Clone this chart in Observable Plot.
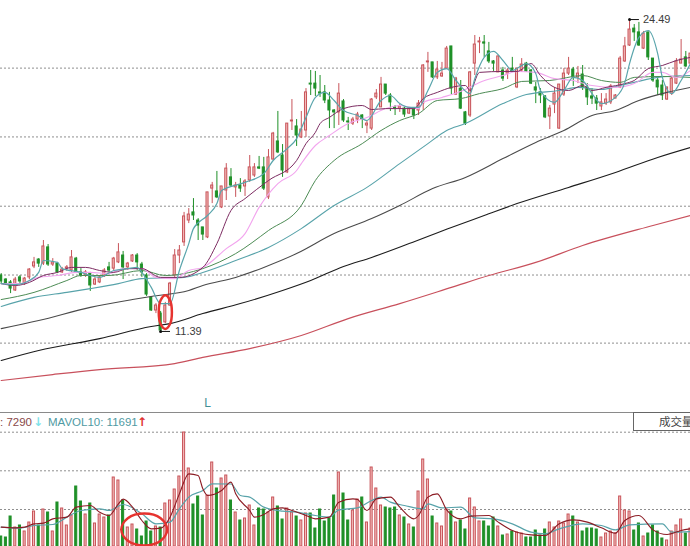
<!DOCTYPE html>
<html>
<head>
<meta charset="utf-8">
<script src="https://cdn.jsdelivr.net/npm/d3@7"></script>
<script src="https://cdn.jsdelivr.net/npm/@observablehq/plot@0.6"></script>
<style>
html,body{margin:0;padding:0;background:#fff;overflow:hidden}
#wrap{position:relative;width:690px;height:546px;overflow:hidden;font-family:"Liberation Sans",Arial,sans-serif}
#wrap svg{display:block}
#strip{position:relative;height:18px;width:690px;background:#fff}
#strip span{position:absolute;white-space:nowrap;font-size:11.5px;line-height:18px;top:1px}
#strip span.arrow{font-family:"DejaVu Sans",sans-serif;font-weight:bold;font-size:12px}
#strip .rule{position:absolute;left:0;top:0;width:690px;height:1px;background:#8a8a8a}
#box{position:absolute;left:633px;top:0;width:60px;height:17px;border:1px solid #666;background:#fff;box-sizing:content-box;font-family:"Noto Sans CJK SC",sans-serif;font-size:11.5px;line-height:17px;color:#444;padding-left:25px}
</style>
</head>
<body>
<div id="wrap">
  <div id="price"></div>
  <div id="strip">
    <div class="rule"></div>
    <span style="left:0;color:#8a4a4a">: 7290</span>
    <span class="arrow" style="left:33px;color:#7fe3ea">↓</span>
    <span style="left:48px;color:#4f9aa3">MAVOL10: 11691</span>
    <span class="arrow" style="left:137px;color:#e03030">↑</span>
    <div id="box">成交量</div>
  </div>
  <div id="volume"></div>
</div>
<script>
const openP = [13.74,13.57,13.45,13.11,13.66,13.40,13.66,14.12,14.41,14.24,14.92,14.20,14.24,13.87,14.03,13.95,14.45,13.87,13.74,13.82,13.36,13.45,13.70,14.08,14.03,14.29,14.58,14.08,14.33,14.58,14.20,13.74,12.82,12.27,12.14,11.77,12.48,13.74,14.58,15.13,16.05,16.39,16.05,15.76,15.34,17.39,17.27,16.60,17.31,17.86,17.44,17.52,17.48,17.73,17.94,18.28,18.28,17.02,18.61,19.37,18.78,18.07,20.21,20.00,19.54,19.83,21.80,21.80,21.43,21.43,21.09,20.67,20.59,21.05,20.21,20.12,20.29,20.46,20.04,19.91,21.22,20.80,21.76,21.30,20.80,20.75,20.75,20.54,20.71,20.67,20.96,22.69,22.69,22.06,22.10,22.43,23.36,21.34,21.59,20.59,20.46,22.64,23.53,23.53,23.15,22.73,22.27,22.35,22.22,22.43,21.64,22.35,22.64,22.35,21.64,21.43,21.26,20.42,20.92,19.91,21.34,22.22,22.39,22.06,22.18,21.64,21.26,21.17,20.84,20.96,21.01,21.17,21.64,22.73,23.40,24.11,23.95,23.27,23.95,22.85,21.93,21.72,21.13,21.38,21.80,22.64,22.90,22.64];
const highP = [13.82,13.61,13.53,13.66,13.74,13.66,14.03,14.50,14.45,15.21,15.04,14.45,14.29,14.08,14.16,14.79,14.50,14.03,13.95,13.87,13.66,13.74,14.03,14.29,14.50,15.08,14.75,14.29,14.62,14.66,14.29,13.82,12.86,12.56,12.23,12.61,13.45,14.83,15.00,16.39,16.55,16.97,16.13,15.76,17.23,17.65,18.11,17.48,18.44,18.23,17.65,17.81,17.77,18.78,18.44,18.74,18.70,19.03,19.75,20.63,19.24,20.12,21.13,20.29,20.63,21.59,22.35,22.31,22.14,21.72,21.43,20.71,21.80,21.13,20.38,20.38,20.59,20.50,20.25,21.17,21.55,22.06,21.76,21.38,20.88,20.92,20.80,20.80,20.75,21.09,22.60,23.11,22.69,22.73,22.69,23.36,23.36,22.06,21.93,20.63,22.31,23.82,23.74,23.82,23.53,22.77,22.98,22.48,22.43,22.90,22.43,22.85,22.69,22.39,21.85,21.59,21.30,20.88,21.64,21.76,22.43,22.90,22.48,22.52,22.56,21.80,21.59,21.30,21.38,21.38,21.76,21.34,22.94,23.74,24.49,24.28,24.37,23.99,23.95,22.85,22.06,21.93,21.64,22.06,22.85,23.65,23.15,23.11];
const lowP = [13.36,13.32,12.98,13.07,13.40,13.32,13.57,14.03,14.08,14.16,14.12,14.12,13.82,13.82,13.91,13.87,13.82,13.66,13.66,13.07,13.32,13.40,13.66,13.87,13.95,14.24,13.57,13.95,14.29,13.95,13.66,12.86,12.23,12.14,11.39,11.72,12.44,13.66,14.24,14.96,15.92,16.05,15.21,15.21,15.29,16.76,16.97,16.55,16.89,17.44,17.02,17.23,17.06,17.65,17.86,18.19,17.31,16.93,18.57,18.86,17.86,18.02,19.83,19.16,19.49,19.54,21.30,21.26,21.22,20.96,19.91,19.91,20.04,20.17,19.83,20.04,20.12,19.91,19.70,19.83,21.13,20.80,21.30,20.63,20.46,20.59,20.38,20.50,20.29,20.46,20.67,22.27,22.01,21.97,22.06,22.39,21.34,21.30,20.71,20.04,20.38,22.14,23.06,22.90,22.64,22.31,22.27,21.89,21.97,22.27,21.59,22.27,22.27,21.76,20.96,20.96,20.33,19.87,20.54,19.87,21.26,22.14,21.68,21.80,21.51,20.88,20.92,20.67,20.67,20.88,20.92,21.17,21.59,22.69,23.36,23.57,23.36,23.23,22.77,21.85,21.30,21.09,21.09,21.30,21.76,22.64,22.48,22.60];
const closeP = [13.49,13.40,13.19,13.57,13.49,13.61,13.99,14.29,14.24,14.96,14.20,14.29,13.87,13.99,14.08,14.50,13.87,13.74,13.87,13.32,13.57,13.66,13.95,13.95,14.45,14.71,14.08,14.24,14.58,14.29,13.87,12.94,12.27,12.48,11.43,12.48,13.40,14.58,14.79,16.22,16.30,16.26,15.84,15.46,17.23,17.52,17.02,17.48,18.23,17.52,17.52,17.39,17.69,18.28,18.28,18.23,17.39,18.70,19.70,18.91,18.15,20.12,20.25,19.62,19.87,21.43,21.76,21.59,21.38,21.09,20.67,20.59,21.38,20.25,20.17,20.29,20.50,20.29,20.12,21.13,21.38,21.76,21.38,21.01,20.75,20.84,20.50,20.75,20.46,20.96,22.56,22.73,22.06,22.39,22.22,23.27,21.59,22.01,20.75,20.12,22.27,23.44,23.57,23.48,22.73,22.64,22.94,22.01,22.35,22.31,22.43,22.60,22.31,21.80,21.51,21.30,20.38,20.75,21.38,21.76,22.22,22.43,22.06,22.22,21.64,21.22,21.17,20.96,21.01,21.13,21.68,21.30,22.85,23.36,24.07,23.95,23.40,23.90,22.90,21.93,21.64,21.30,21.64,22.01,22.73,22.81,22.52,23.06];
const volume = [2000,1800,6000,3800,4200,3000,4800,7000,4200,7400,6800,3000,8800,7600,4200,6200,12000,9000,6400,8600,4600,6400,5800,6200,13800,13200,9200,3800,4400,3400,2000,5000,3000,4000,3800,8600,9200,11400,14000,22800,15600,8400,10000,6200,10200,16800,11600,13600,14200,9200,6800,5200,5600,8200,4200,7600,7400,6800,9800,8000,5400,7600,6800,6000,5200,6600,6600,3600,7400,5000,5600,10200,14800,10600,5200,7200,9400,9800,4800,15800,11600,8200,7800,7600,7800,6200,5800,4400,3800,11000,17400,13400,6000,4600,4000,7400,7000,4800,5200,3400,9600,7800,5000,5000,4000,5800,4000,2200,2400,3000,2800,2600,1800,1800,3200,2200,3400,4800,3800,5000,4600,6400,6000,4800,3000,3600,3600,3400,1800,2600,3000,2600,10000,7200,7000,3200,4600,2000,2600,4200,3000,1600,1200,3000,4200,5400,2600,3600];

const ma5I = [0,3,6,8,9,12,13,17,19,21,24,27,29,30,32,34,36,38,40,41,44,46,47,52,56,58,61,63,65,67,69,71,73,76,78,81,83,85,87,89,91,93,95,97,100,101,103,105,107,109,112,114,115,118,120,122,124,126,128,131,133,134,136,138,140,141,143,145,147];
const ma5P = [13.40,13.36,13.53,13.87,14.37,14.29,14.03,13.87,13.74,13.66,13.95,14.03,14.08,13.87,13.24,12.56,12.56,13.95,15.08,15.71,16.26,16.76,17.31,17.65,18.02,18.57,19.07,19.49,20.38,21.22,21.43,21.09,20.67,20.46,20.25,21.09,21.30,20.96,20.80,20.80,21.51,22.27,22.43,21.93,21.38,22.01,22.90,23.15,22.77,22.35,22.64,22.22,21.51,21.01,21.51,22.06,21.93,21.38,20.96,21.22,21.85,22.64,23.74,24.03,23.06,22.06,21.38,21.93,22.64];
const ma10I = [0,3,6,9,12,15,18,21,24,27,30,34,38,43,46,49,52,57,63,65,67,68,70,73,77,79,82,88,90,93,96,99,100,102,107,110,113,115,118,121,124,126,129,133,135,138,141,144,147];
const ma10P = [13.40,13.32,13.45,13.74,13.87,14.08,14.08,13.95,13.87,14.03,14.03,13.66,13.66,14.08,15.08,16.47,16.97,17.73,18.57,19.28,19.75,20.12,20.38,20.75,20.88,20.71,20.75,20.75,21.17,21.43,21.64,21.72,21.51,22.27,22.31,22.31,22.64,22.14,21.64,21.51,21.72,21.51,21.64,21.80,21.93,22.43,22.56,22.77,22.90];
const ma20I = [0,4,8,12,16,19,23,26,30,33,37,40,43,48,52,55,59,63,64,67,70,74,78,82,85,89,90,94,99,102,107,110,114,118,122,126,131,135,139,141,144,147];
const ma20P = [13.40,13.40,13.66,13.74,13.87,13.87,13.82,14.03,14.03,13.66,13.61,13.95,14.08,14.87,15.50,16.60,17.60,18.15,18.44,19.20,19.62,20.12,20.38,20.75,20.88,20.75,21.01,21.22,21.55,21.85,22.14,22.31,22.27,22.01,21.93,21.72,21.64,21.80,22.27,22.27,22.06,22.35];
const ma30I = [0,7,14,17,23,30,35,39,43,50,57,64,67,71,77,81,85,89,93,98,102,107,111,117,124,128,132,135,141,147];
const ma30P = [12.73,13.03,13.53,13.74,13.74,13.95,13.74,13.82,14.03,14.66,15.63,16.68,17.73,18.57,19.28,19.83,20.25,20.54,21.09,21.17,21.38,21.59,21.89,21.93,22.14,21.93,21.85,22.06,22.10,22.06];
const ma60I = [0,7,14,19,25,30,39,43,50,57,64,71,78,85,91,95,99,107,112,119,123,128,132,135,140,147];
const ma60P = [12.44,12.82,13.03,13.19,13.40,13.61,13.66,13.87,14.37,14.92,15.71,16.68,17.44,18.44,19.28,19.83,20.12,20.96,21.34,21.51,21.64,21.55,21.72,21.85,22.06,22.14];
const ma120I = [0,8,19,28,32,40,43,50,56,63,71,79,85,92,99,107,114,120,126,131,136,142,147];
const ma120P = [11.51,11.85,12.40,12.73,12.86,13.11,13.32,13.66,14.08,14.66,15.50,16.13,16.68,17.39,17.86,18.65,19.33,19.83,20.46,20.67,21.09,21.43,21.64];
const ma250I = [0,8,21,32,36,43,51,60,66,73,79,87,96,103,110,121,131,140,147];
const ma250P = [10.17,10.59,11.09,11.60,11.72,12.14,12.56,13.11,13.53,14.12,14.50,15.08,15.76,16.26,16.76,17.44,18.07,18.70,19.12];
const ma500I = [0,11,21,37,43,53,64,74,85,96,104,114,124,139,147];
const ma500P = [9.33,9.58,9.79,10.04,10.30,10.67,11.22,11.93,12.56,13.24,13.74,14.29,15.00,15.84,16.26];

const mavol5I = [0,3,5,7,9,11,14,16,19,21,23,25,26,28,30,32,34,36,38,40,42,43,44,47,49,50,53,54,56,58,60,62,65,67,70,72,75,76,78,80,83,85,88,89,91,93,95,98,100,104,106,109,113,116,119,122,125,128,131,133,136,139,142,145,147];
const mavol5V = [3870,3730,3870,4530,4670,5530,5870,7870,8200,6870,6200,8530,9470,7870,5200,3530,3670,5870,10530,14530,14200,11530,10200,11200,12870,10530,7200,5870,6400,7530,7730,7200,6200,5530,5870,8870,9530,9400,7200,9530,9870,7870,5530,6200,9870,10530,7330,5530,6070,6200,4870,3200,2330,2200,4530,5330,4870,3730,2670,5200,6200,3330,2400,3200,3530];
const mavol10I = [0,4,7,11,14,17,21,23,26,30,33,36,38,40,43,45,49,51,53,56,60,63,67,70,72,76,79,81,83,86,90,91,94,98,101,105,109,113,116,119,124,128,131,134,141,143,147];
const mavol10V = [3870,3670,4200,4400,5870,7200,7530,7200,8400,6530,4530,4870,7530,9870,11200,12530,12500,10200,9870,7870,7070,6870,6200,5870,7330,7730,9200,9870,8870,8200,7530,8530,7730,7870,5730,5530,4530,2870,2530,3530,4530,4200,3330,4330,4530,2870,3000];

const gridPrice = [22.45,19.56,16.65,13.76,10.90];
const gridVolume = [22860,15140,7400];
const lowIndex = 34, lowValue = 11.39, highIndex = 134, highValue = 24.49;
const leaderEnd = 2;
const lMarkIndex = [44], lMarkPrice = [8.36];
const ringPriceI = [36.4,36,35,34,33.6,34,35,36];
const ringPriceP = [12.2,12.7,12.91,12.7,12.2,11.7,11.49,11.7];
const ringVolI = [35.4,34,30.5,27,25.6,27,30.5,34];
const ringVolV = [3400,5660,6600,5660,3400,1140,200,1140];

const RED = "#c8545a", PINK = "#f3bcba", GREEN = "#1f9028";
const candles = d3.range(openP.length).map(i => ({
  i, o: openP[i], h: highP[i], l: lowP[i], c: closeP[i], v: volume[i], up: closeP[i] >= openP[i]
}));
const xScale = {domain: [-0.15, 147], range: [0, 690], axis: null};
const halfBody = 0.22;

function lineOf(xs, ys, stroke, w) {
  return Plot.line(ys, {x: (d, i) => xs[i], y: d => d, stroke, strokeWidth: w, curve: "monotone-x"});
}
function ring(xs, ys, w) {
  return Plot.line(ys, {x: (d, i) => xs[i], y: d => d, stroke: "#e6332f", strokeWidth: w, curve: "catmull-rom-closed"});
}

const pricePlot = Plot.plot({
  width: 690, height: 412,
  marginLeft: 0, marginRight: 0, marginTop: 0, marginBottom: 0,
  x: xScale,
  y: {domain: [7.986, 25.29], range: [412, 0], axis: null},
  style: {background: "#fff", fontFamily: "'Liberation Sans',Arial,sans-serif"},
  marks: [
    Plot.ruleY(gridPrice, {stroke: "#8f8f8f", strokeDasharray: "2 2", strokeWidth: 1}),
    Plot.ruleX(candles, {x: "i", y1: "l", y2: "h", stroke: d => d.up ? RED : GREEN, strokeWidth: 1}),
    Plot.rect(candles, {
      x1: d => d.i - halfBody, x2: d => d.i + halfBody,
      y1: "o", y2: "c",
      fill: d => d.up ? PINK : GREEN,
      stroke: d => d.up ? RED : GREEN,
      strokeWidth: 1
    }),
    lineOf(ma500I, ma500P, "#c8505c", 1.2),
    lineOf(ma250I, ma250P, "#1c1c1c", 1.1),
    lineOf(ma120I, ma120P, "#4a4a4a", 1.1),
    lineOf(ma60I, ma60P, "#58a3aa", 1.1),
    lineOf(ma30I, ma30P, "#4d8c55", 1),
    lineOf(ma20I, ma20P, "#f2a4ee", 1.1),
    lineOf(ma10I, ma10P, "#7d2c62", 1),
    lineOf(ma5I, ma5P, "#5aa5ac", 1.2),
    ring(ringPriceI, ringPriceP, 2.5),
    Plot.link([lowValue], {x1: lowIndex, x2: lowIndex + leaderEnd, y1: d => d, y2: d => d, stroke: "#111", strokeWidth: 1}),
    Plot.link([highValue], {x1: highIndex, x2: highIndex + leaderEnd, y1: d => d, y2: d => d, stroke: "#111", strokeWidth: 1}),
    Plot.dot([lowValue], {x: lowIndex, y: d => d, r: 1.5, fill: "#111"}),
    Plot.dot([highValue], {x: highIndex, y: d => d, r: 1.5, fill: "#111"}),
    Plot.text([lowValue], {x: lowIndex + leaderEnd, y: d => d, text: d => d.toFixed(2), textAnchor: "start", dx: 5, fontSize: 11, fill: "#3c3c3c"}),
    Plot.text([highValue], {x: highIndex + leaderEnd, y: d => d, text: d => d.toFixed(2), textAnchor: "start", dx: 4, fontSize: 11, fill: "#3c3c3c"}),
    Plot.text(lMarkPrice, {x: (d, i) => lMarkIndex[i], y: d => d, text: () => "L", fontSize: 12, fill: "#3f8f95"})
  ]
});
document.getElementById("price").appendChild(pricePlot);

const volumePlot = Plot.plot({
  width: 690, height: 116,
  marginLeft: 0, marginRight: 0, marginTop: 0, marginBottom: 0,
  x: xScale,
  y: {domain: [0, 23200], range: [116, 0], axis: null},
  style: {background: "#fff", fontFamily: "'Liberation Sans',Arial,sans-serif"},
  marks: [
    Plot.ruleY(gridVolume, {stroke: "#8f8f8f", strokeDasharray: "2 2", strokeWidth: 1}),
    Plot.rect(candles, {
      x1: d => d.i - halfBody, x2: d => d.i + halfBody,
      y1: 0, y2: "v",
      fill: d => d.up ? PINK : GREEN,
      stroke: d => d.up ? RED : GREEN,
      strokeWidth: 1
    }),
    lineOf(mavol10I, mavol10V, "#58a3aa", 1.2),
    lineOf(mavol5I, mavol5V, "#8c1c24", 1.1),
    ring(ringVolI, ringVolV, 2.5)
  ]
});
document.getElementById("volume").appendChild(volumePlot);
</script>
</body>
</html>
